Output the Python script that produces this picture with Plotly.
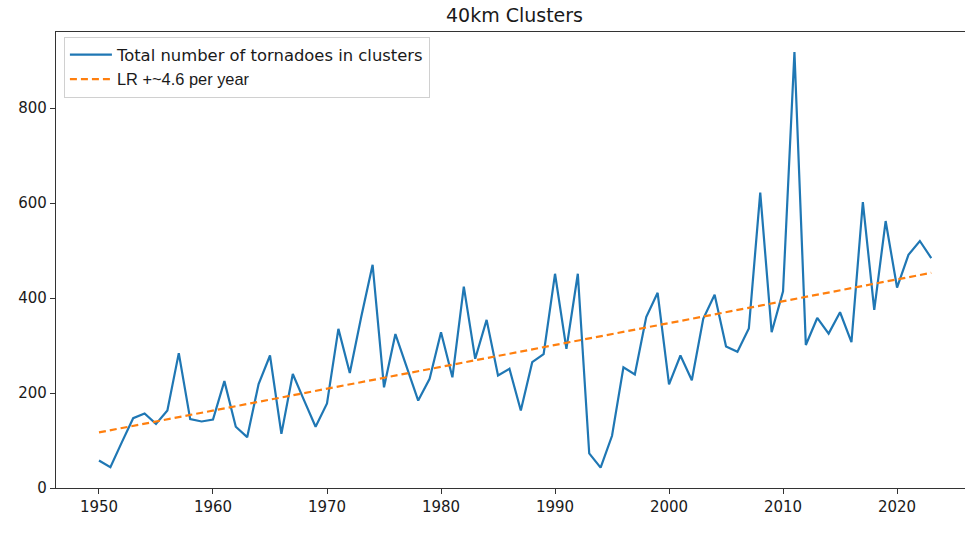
import plotly.graph_objects as go

years = list(range(1950, 2024))
totals = [58, 44, 96, 147, 157, 135, 163, 284, 145, 140,
          144, 225, 129, 107, 219, 279, 114, 240, 184, 129,
          178, 335, 242, 360, 470, 212, 324, 254, 184, 230,
          328, 233, 424, 272, 354, 237, 251, 163, 265, 282,
          451, 293, 451, 73, 43, 110, 254, 239, 360, 411,
          218, 279, 227, 356, 407, 298, 287, 336, 622, 328,
          414, 918, 301, 358, 325, 370, 307, 602, 375, 562,
          422, 491, 520, 484]

trend_years = [1950, 2023]
trend_values = [117, 453]

title_text = "40km Clusters"
series_name = "Total number of tornadoes in clusters"
trend_name = "LR +~4.6 per year"
y_ticks = [0, 200, 400, 600, 800]
x_ticks = [1950, 1960, 1970, 1980, 1990, 2000, 2010, 2020]

fig = go.Figure()
fig.add_trace(go.Scatter(
    x=years, y=totals, mode="lines", name=series_name,
    line=dict(color="#1f77b4", width=2.2),
))
fig.add_trace(go.Scatter(
    x=trend_years, y=trend_values, mode="lines",
    name='<span style="font-family:\'Liberation Sans\', Arial, sans-serif">' + trend_name + '</span>',
    line=dict(color="#ff7f0e", width=2.2, dash="7px,4px"),
))

axis_color = "#333333"
fig.update_layout(
    width=965, height=542,
    margin=dict(l=56, r=0, t=32, b=54),
    paper_bgcolor="white", plot_bgcolor="white",
    font=dict(family="DejaVu Sans", size=15, color="#1a1a1a"),
    title=dict(text=title_text, x=514.5 / 965, xanchor="center",
               y=1 - 15 / 542, yanchor="middle",
               font=dict(family="DejaVu Sans", size=19, color="#1a1a1a")),
    showlegend=True,
    legend=dict(x=0.0087, y=0.99, xanchor="left", yanchor="top",
                bgcolor="rgba(255,255,255,0.9)", bordercolor="#d0d0d0", borderwidth=1,
                font=dict(family="DejaVu Sans", size=16.4, color="#1a1a1a"),
                itemwidth=42, tracegroupgap=0),
    xaxis=dict(range=[1946.23, 2025.96], tickvals=x_ticks, showgrid=False, zeroline=False,
               showline=True, linecolor=axis_color, linewidth=1.2, mirror=True,
               ticks="outside", ticklen=5, tickcolor=axis_color, tickwidth=1.2,
               tickfont=dict(family="DejaVu Sans", size=15, color="#1a1a1a")),
    yaxis=dict(range=[0, 960], tickvals=y_ticks, showgrid=False, zeroline=False,
               showline=True, linecolor=axis_color, linewidth=1.2, mirror=False,
               ticks="outside", ticklen=5, tickcolor=axis_color, tickwidth=1.2,
               tickfont=dict(family="DejaVu Sans", size=15, color="#1a1a1a")),
)

fig.write_html("out.html")
